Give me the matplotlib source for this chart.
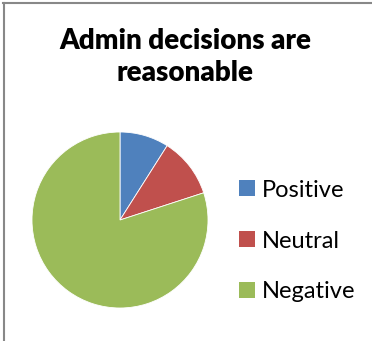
import matplotlib
matplotlib.use("Agg")
import matplotlib.pyplot as plt
from matplotlib.lines import Line2D
from matplotlib.patches import Patch

labels = ["Positive", "Neutral", "Negative"]
shares = [9, 11, 80]  # percent of responses
colors = ["#4F81BD", "#C0504D", "#9BBB59"]
title = "Admin decisions are\nreasonable"

plt.rcParams["font.family"] = ["Lato", "DejaVu Sans"]

fig = plt.figure(figsize=(3.72, 3.41), dpi=100)
W, H = 372, 341

# pie centred at (120, 220) px, radius ~88 px
ax = fig.add_axes([32 / W, 33 / H, 176 / W, 176 / H])
ax.pie(shares, colors=colors, startangle=90, counterclock=False,
       wedgeprops=dict(linewidth=0.6, edgecolor="white"))
ax.set_xlim(-1, 1)
ax.set_ylim(-1, 1)
ax.set_aspect("equal")

fig.text(185 / W, 1 - 57 / H, title, ha="center", va="center",
         fontsize=20, fontweight="heavy", linespacing=1.3)

handles = [Patch(facecolor=c, edgecolor="none") for c in colors]
fig.legend(handles, labels, loc="center left",
           bbox_to_anchor=(239 / W, 1 - 241 / H), frameon=False,
           fontsize=17, handlelength=0.68, handleheight=0.68,
           handletextpad=0.3, labelspacing=1.27, borderpad=0,
           borderaxespad=0)

# chart-area border (only top and left visible in the crop)
grey = "#888888"
fig.add_artist(Line2D([3 / W, 1], [1 - 2.5 / H, 1 - 2.5 / H], color=grey, lw=1.5))
fig.add_artist(Line2D([3.5 / W, 3.5 / W], [0, 1 - 2.5 / H], color=grey, lw=1.5))

fig.savefig("out.png", dpi=100, facecolor="white")
